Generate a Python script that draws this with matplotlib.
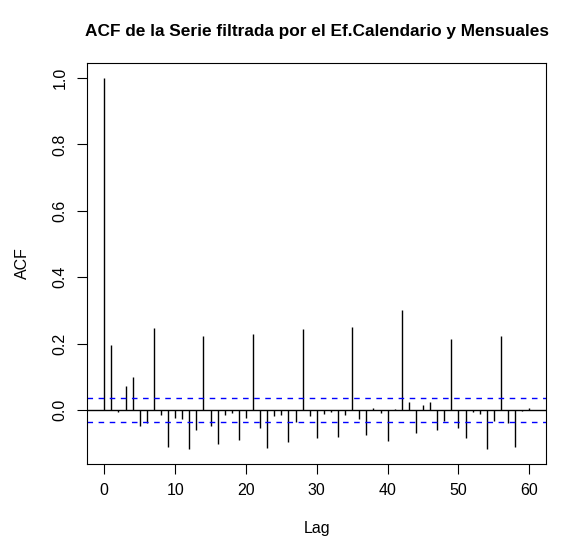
import matplotlib.pyplot as plt
import numpy as np

plt.rcParams['font.family'] = ['Liberation Sans', 'DejaVu Sans']

# autocorrelaciones por retardo 0..60
lags = np.arange(0, 61)
acf = [1.0, 0.195, -0.006, 0.073, 0.099, -0.050, -0.039, 0.246, -0.016, -0.113,
       -0.023, -0.028, -0.118, -0.061, 0.222, -0.050, -0.103, -0.014, -0.010, -0.092,
       -0.024, 0.228, -0.055, -0.115, -0.017, -0.014, -0.098, -0.037, 0.243, -0.017,
       -0.086, -0.011, -0.006, -0.083, -0.014, 0.249, -0.028, -0.075, 0.006, -0.008,
       -0.095, 0.003, 0.301, 0.023, -0.071, 0.015, 0.024, -0.061, -0.032, 0.214,
       -0.056, -0.085, -0.005, -0.011, -0.117, -0.033, 0.222, -0.040, -0.111, -0.002,
       0.005]
ci = 0.036

fig = plt.figure(figsize=(5.69, 5.44), dpi=100)
ax = fig.add_axes([87.3 / 569, 1 - 464 / 544, (546.3 - 87.3) / 569, (464 - 63) / 544])

ax.vlines(lags, 0, acf, colors='black', linewidth=1)
ax.axhline(0, color='black', linewidth=1)
ax.axhline(ci, color='blue', linestyle=(0, (4, 4)), linewidth=1)
ax.axhline(-ci, color='blue', linestyle=(0, (4, 4)), linewidth=1)

ax.set_xlim(-2.4, 62.4)
ax.set_ylim(-0.163, 1.045)
ax.set_xticks([0, 10, 20, 30, 40, 50, 60])
ax.set_yticks([0.0, 0.2, 0.4, 0.6, 0.8, 1.0])
ax.set_yticklabels(['0.0', '0.2', '0.4', '0.6', '0.8', '1.0'], rotation=90, va='center')
ax.tick_params(length=7, width=0.8, labelsize=11.5, pad=7)
for s in ax.spines.values():
    s.set_linewidth(0.8)

ax.set_xlabel('Lag', fontsize=11.5)
ax.set_ylabel('ACF', fontsize=11.5)
ax.xaxis.set_label_coords(0.5, -0.143)
ax.yaxis.set_label_coords(-0.124, 0.5)
# titulo centrado en el margen superior
ax.set_title('ACF de la Serie filtrada por el Ef.Calendario y Mensuales',
             fontsize=12.4, fontweight='bold', y=1 + 31.5 / 401, pad=0, va='center')

fig.savefig('out.png', dpi=100)
